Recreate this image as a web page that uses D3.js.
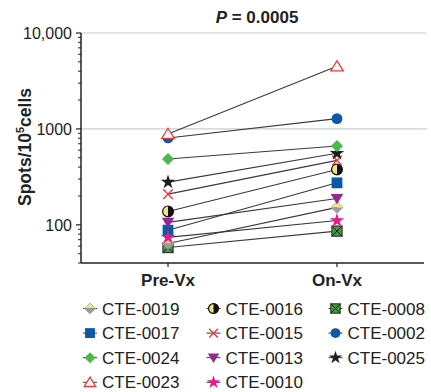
<!DOCTYPE html>
<html>
<head>
<meta charset="utf-8">
<script src="https://cdn.jsdelivr.net/npm/d3@7"></script>
<style>
  html, body { margin: 0; padding: 0; background: #fff; }
  svg { display: block; font-family: "Liberation Sans", Arial, Helvetica, sans-serif; }
</style>
</head>
<body>
<svg id="chart" width="431" height="392"></svg>
<script>
// Time points on the x axis
const timepoints = ["Pre-Vx", "On-Vx"];

// Patients, in drawing order (later ones sit on top)
const patients = ["CTE-0008", "CTE-0019", "CTE-0017", "CTE-0010", "CTE-0013",
                  "CTE-0016", "CTE-0015", "CTE-0025", "CTE-0024", "CTE-0002", "CTE-0023"];
// Spots per 10^5 cells before vaccination
const preVx  = [58, 64, 88, 74, 106, 138, 209, 279, 485, 805, 886];
// Spots per 10^5 cells on vaccination
const onVx   = [86, 152, 274, 111, 188, 378, 470, 557, 664, 1280, 4490];

// Legend layout, column by column
const legendColumns = [
  ["CTE-0019", "CTE-0017", "CTE-0024", "CTE-0023"],
  ["CTE-0016", "CTE-0015", "CTE-0013", "CTE-0010"],
  ["CTE-0008", "CTE-0002", "CTE-0025"]
];

// Y axis
const majorTicks = [100, 1000, 10000];
const majorTickLabels = ["100", "1000", "10,000"];
const gridValues = [1000, 10000];
const titleText = "P = 0.0005";

const marker = {
  "CTE-0019": "diamondSplit",
  "CTE-0017": "squareBlue",
  "CTE-0024": "diamondGreen",
  "CTE-0023": "triangleOpen",
  "CTE-0016": "circleHalf",
  "CTE-0015": "cross",
  "CTE-0013": "triangleDown",
  "CTE-0010": "starPink",
  "CTE-0008": "squareX",
  "CTE-0002": "circleBlue",
  "CTE-0025": "starBlack"
};

const svg = d3.select("#chart");
const plotLeft = 81, plotRight = 424, plotTop = 33, plotBottom = 263;

const x = d3.scalePoint().domain(timepoints).range([plotLeft, plotRight]).padding(0.515);
const y = d3.scaleLog().domain([40, 10000]).range([plotBottom, plotTop]);

// grid lines
svg.append("g").selectAll("line").data(gridValues).join("line")
  .attr("x1", plotLeft).attr("x2", 427)
  .attr("y1", d => y(d)).attr("y2", d => y(d))
  .attr("stroke", "#c9d0d0").attr("stroke-width", 1.2);

// y axis with major and minor ticks
const minorTicks = y.ticks(20).filter(v => !majorTicks.includes(v));
const yAxis = svg.append("g").attr("transform", `translate(${plotLeft},0)`);
yAxis.append("line").attr("x1", 0).attr("x2", 0).attr("y1", y(10000)).attr("y2", plotBottom)
  .attr("stroke", "#222").attr("stroke-width", 1.5);
yAxis.selectAll("line.minor").data(minorTicks).join("line").attr("class", "minor")
  .attr("x1", -3).attr("x2", 0).attr("y1", d => y(d)).attr("y2", d => y(d))
  .attr("stroke", "#222").attr("stroke-width", 1);
yAxis.selectAll("line.major").data(majorTicks).join("line").attr("class", "major")
  .attr("x1", -5).attr("x2", 0).attr("y1", d => y(d)).attr("y2", d => y(d))
  .attr("stroke", "#222").attr("stroke-width", 1.2);
yAxis.selectAll("text").data(majorTicks).join("text")
  .attr("x", -9).attr("y", d => y(d)).attr("dy", "0.36em")
  .attr("text-anchor", "end").attr("font-size", 16).attr("fill", "#222")
  .text((d, i) => majorTickLabels[i]);

// y axis title
const yTitle = svg.append("text")
  .attr("transform", `translate(31,147) rotate(-90)`)
  .attr("text-anchor", "middle").attr("font-size", 17.5).attr("font-weight", "bold").attr("fill", "#222");
yTitle.append("tspan").text("Spots/10");
yTitle.append("tspan").attr("font-size", 11).attr("dy", -7).text("5");
yTitle.append("tspan").attr("dy", 7).text("cells");

// x axis
const xAxis = svg.append("g");
xAxis.append("line").attr("x1", plotLeft).attr("x2", plotRight).attr("y1", plotBottom).attr("y2", plotBottom)
  .attr("stroke", "#222").attr("stroke-width", 1.5);
xAxis.selectAll("line.tick").data(timepoints).join("line").attr("class", "tick")
  .attr("x1", d => x(d)).attr("x2", d => x(d)).attr("y1", plotBottom).attr("y2", plotBottom + 4)
  .attr("stroke", "#222").attr("stroke-width", 1.2);
xAxis.selectAll("text").data(timepoints).join("text")
  .attr("x", d => x(d)).attr("y", 286)
  .attr("text-anchor", "middle").attr("font-size", 17).attr("font-weight", "bold").attr("fill", "#222")
  .text(d => d);

// title
const title = svg.append("text").attr("x", 257).attr("y", 23)
  .attr("text-anchor", "middle").attr("font-size", 17).attr("font-weight", "bold").attr("fill", "#222");
title.append("tspan").attr("font-style", "italic").text(titleText.split(" ")[0]);
title.append("tspan").text(" " + titleText.split(" ").slice(1).join(" "));

// marker drawing
function drawMarker(g, kind, s) {
  const r = s / 2;
  switch (kind) {
    case "diamondSplit":
      g.append("path").attr("d", `M${-r},0 L0,${-r} L${r},0 Z`).attr("fill", "#efe58e");
      g.append("path").attr("d", `M${-r},0 L0,${r} L${r},0 Z`).attr("fill", "#9b9b9b");
      g.append("path").attr("d", `M${-r},0 L0,${-r} L${r},0 L0,${r} Z`).attr("fill", "none")
        .attr("stroke", "#a5a5a5").attr("stroke-width", 0.8);
      break;
    case "diamondGreen":
      g.append("path").attr("d", `M${-r},0 L0,${-r} L${r},0 L0,${r} Z`).attr("fill", "#4cb848");
      break;
    case "squareBlue": {
      const h = r * 0.9;
      g.append("rect").attr("x", -h).attr("y", -h).attr("width", 2 * h).attr("height", 2 * h).attr("fill", "#0a59a8");
      break;
    }
    case "squareX": {
      const h = r * 0.85;
      g.append("rect").attr("x", -h).attr("y", -h).attr("width", 2 * h).attr("height", 2 * h)
        .attr("fill", "#3f9c3f").attr("stroke", "#3a3a3a").attr("stroke-width", 1.2);
      g.append("path").attr("d", `M${-h},${-h} L${h},${h} M${h},${-h} L${-h},${h}`)
        .attr("stroke", "#1a1a1a").attr("stroke-width", 1);
      break;
    }
    case "triangleOpen": {
      const h = r * 0.95;
      g.append("path").attr("d", `M0,${-h} L${h * 1.1},${h * 0.8} L${-h * 1.1},${h * 0.8} Z`)
        .attr("fill", "#fff").attr("stroke", "#ee3a3a").attr("stroke-width", 1.3);
      break;
    }
    case "triangleDown": {
      const h = r * 0.95;
      g.append("path").attr("d", `M0,${h} L${h * 1.1},${-h * 0.8} L${-h * 1.1},${-h * 0.8} Z`)
        .attr("fill", "#93288e");
      break;
    }
    case "circleHalf": {
      const c = r * 0.9;
      g.append("path").attr("d", `M0,${-c} A${c},${c} 0 0,0 0,${c} Z`).attr("fill", "#f3e57a");
      g.append("path").attr("d", `M0,${-c} A${c},${c} 0 0,1 0,${c} Z`).attr("fill", "#111");
      g.append("circle").attr("r", c).attr("fill", "none").attr("stroke", "#111").attr("stroke-width", 1.2);
      break;
    }
    case "circleBlue":
      g.append("circle").attr("r", r * 0.9).attr("fill", "#0a59a8");
      break;
    case "cross": {
      const c = r * 0.8;
      g.append("path").attr("d", `M${-c},${-c} L${c},${c} M${c},${-c} L${-c},${c}`)
        .attr("stroke", "#ee3a3a").attr("stroke-width", 1.4);
      break;
    }
    case "starPink":
      g.append("path").attr("d", d3.symbol(d3.symbolStar, s * s * 0.45)()).attr("fill", "#e8198b");
      break;
    case "starBlack":
      g.append("path").attr("d", d3.symbol(d3.symbolStar, s * s * 0.45)()).attr("fill", "#1e1e1e");
      break;
  }
}

// connecting lines
const series = patients.map((p, i) => ({ id: p, values: [preVx[i], onVx[i]] }));
svg.append("g").selectAll("line").data(series).join("line")
  .attr("x1", x(timepoints[0])).attr("x2", x(timepoints[1]))
  .attr("y1", d => y(d.values[0])).attr("y2", d => y(d.values[1]))
  .attr("stroke", "#3a3a3a").attr("stroke-width", 1.1);

// markers
const markLayer = svg.append("g");
series.forEach(d => {
  timepoints.forEach((t, j) => {
    const g = markLayer.append("g").attr("transform", `translate(${x(t)},${y(d.values[j])})`);
    drawMarker(g, marker[d.id], 12);
  });
});

// legend
const colX = [90, 213.5, 335.5];
const rowY0 = 308.5, rowStep = 24.6;
const legend = svg.append("g");
legendColumns.forEach((col, ci) => {
  col.forEach((id, ri) => {
    const cx = colX[ci], cy = rowY0 + ri * rowStep;
    legend.append("line").attr("x1", cx - 7).attr("x2", cx + 7).attr("y1", cy).attr("y2", cy)
      .attr("stroke", "#3a3a3a").attr("stroke-width", 1);
    const g = legend.append("g").attr("transform", `translate(${cx},${cy})`);
    drawMarker(g, marker[id], 11);
    legend.append("text").attr("x", cx + 12).attr("y", cy).attr("dy", "0.36em")
      .attr("font-size", 17).attr("fill", "#222").text(id);
  });
});
</script>
</body>
</html>
